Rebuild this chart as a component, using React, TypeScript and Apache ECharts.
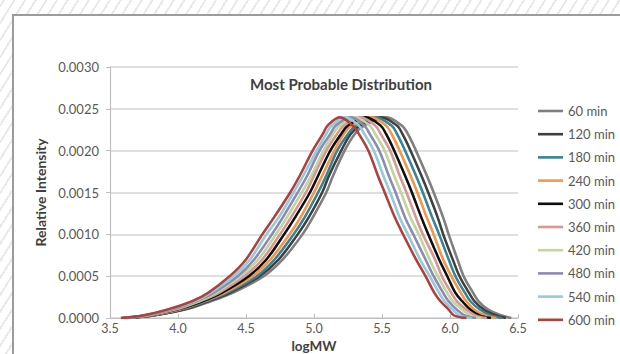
import React, { useEffect, useRef } from "react";
import * as echarts from "echarts";

// Series names (legend order)
const SERIES_NAMES = ["60 min", "120 min", "180 min", "240 min", "300 min", "360 min", "420 min", "480 min", "540 min", "600 min"];

// Relative intensity levels at which each curve's logMW position was read (rising side, peak, falling side)
const LEVELS = [0, 0.00003, 0.0001, 0.0002, 0.0003, 0.0005, 0.0007, 0.001, 0.0012, 0.0015, 0.0017, 0.002, 0.0022, 0.0023, 0.0024,
  0.0023, 0.0022, 0.002, 0.0017, 0.0015, 0.0012, 0.001, 0.0007, 0.0005, 0.0003, 0.0002, 0.0001, 0.00003, 0];

// logMW positions of each curve at the levels above
const X_60 = [3.63, 3.82, 4.05, 4.24, 4.40, 4.63, 4.77, 4.915, 4.99, 5.09, 5.14, 5.225, 5.30, 5.37, 5.53, 5.645, 5.69, 5.75, 5.83, 5.88, 5.95, 5.99, 6.055, 6.10, 6.17, 6.21, 6.28, 6.38, 6.45];
const X_120 = [3.62, 3.81, 4.04, 4.22, 4.38, 4.60, 4.74, 4.88, 4.96, 5.06, 5.11, 5.20, 5.27, 5.34, 5.49, 5.61, 5.65, 5.71, 5.79, 5.84, 5.91, 5.95, 6.02, 6.07, 6.14, 6.18, 6.25, 6.34, 6.41];
const X_180 = [3.62, 3.80, 4.02, 4.21, 4.36, 4.58, 4.71, 4.85, 4.93, 5.03, 5.09, 5.17, 5.25, 5.31, 5.45, 5.57, 5.61, 5.67, 5.75, 5.80, 5.87, 5.92, 5.99, 6.04, 6.11, 6.15, 6.22, 6.30, 6.38];
const X_240 = [3.61, 3.79, 4.01, 4.19, 4.34, 4.55, 4.68, 4.82, 4.90, 5.00, 5.06, 5.15, 5.22, 5.28, 5.42, 5.53, 5.57, 5.63, 5.71, 5.76, 5.83, 5.88, 5.95, 6.01, 6.08, 6.12, 6.18, 6.26, 6.34];
const X_300 = [3.61, 3.78, 3.99, 4.18, 4.32, 4.52, 4.65, 4.78, 4.86, 4.97, 5.03, 5.12, 5.20, 5.25, 5.38, 5.49, 5.53, 5.59, 5.67, 5.72, 5.79, 5.84, 5.92, 5.98, 6.04, 6.09, 6.15, 6.22, 6.30];
const X_360 = [3.60, 3.78, 3.98, 4.16, 4.30, 4.49, 4.62, 4.75, 4.83, 4.94, 5.00, 5.09, 5.17, 5.22, 5.34, 5.45, 5.49, 5.56, 5.63, 5.68, 5.75, 5.80, 5.89, 5.94, 6.01, 6.05, 6.12, 6.19, 6.27];
const X_420 = [3.60, 3.77, 3.96, 4.15, 4.28, 4.46, 4.59, 4.72, 4.80, 4.91, 4.98, 5.07, 5.14, 5.19, 5.30, 5.41, 5.45, 5.52, 5.59, 5.64, 5.71, 5.77, 5.85, 5.91, 5.98, 6.02, 6.09, 6.15, 6.23];
const X_480 = [3.59, 3.76, 3.95, 4.13, 4.26, 4.44, 4.56, 4.69, 4.77, 4.88, 4.95, 5.04, 5.12, 5.16, 5.27, 5.37, 5.41, 5.48, 5.55, 5.60, 5.67, 5.73, 5.82, 5.88, 5.95, 5.99, 6.05, 6.11, 6.19];
const X_540 = [3.59, 3.75, 3.93, 4.12, 4.24, 4.41, 4.53, 4.65, 4.74, 4.85, 4.92, 5.02, 5.09, 5.13, 5.23, 5.33, 5.37, 5.44, 5.51, 5.56, 5.63, 5.69, 5.78, 5.85, 5.92, 5.96, 6.02, 6.07, 6.16];
const X_600 = [3.58, 3.74, 3.92, 4.10, 4.22, 4.38, 4.50, 4.62, 4.705, 4.825, 4.895, 4.99, 5.065, 5.10, 5.19, 5.285, 5.33, 5.40, 5.47, 5.52, 5.595, 5.655, 5.75, 5.82, 5.885, 5.93, 5.99, 6.03, 6.12];

const SERIES_X = [X_60, X_120, X_180, X_240, X_300, X_360, X_420, X_480, X_540, X_600];

const COLORS = ["#7f7f7f", "#3f3f3f", "#31859c", "#f79646", "#0d0d0d", "#d99694", "#c3d69b", "#8b8bb6", "#93cddd", "#b0403c"];

const Y_MIN = 0;
const Y_MAX = 0.003;
const Y_STEP = 0.0005;
const X_MIN = 3.5;
const X_MAX = 6.5;
const X_STEP = 0.5;

const FONT = "Lato, 'Open Sans', sans-serif";

export default function App() {
  const ref = useRef<HTMLDivElement>(null);

  useEffect(() => {
    if (!ref.current) return;
    const chart = echarts.init(ref.current, null, { renderer: "svg" });
    const series = SERIES_NAMES.map((name, s) => ({
      name,
      type: "line",
      data: SERIES_X[s].map((x, i) => [x, LEVELS[i]]),
      smooth: 0.35,
      symbol: "none",
      showSymbol: false,
      lineStyle: { color: COLORS[s], width: 2.4, shadowColor: "rgba(0,0,0,0.35)", shadowBlur: 1.5 },
      itemStyle: { color: COLORS[s] },
      z: 2 + s,
    }));

    chart.setOption({
      animation: false,
      backgroundColor: "transparent",
      textStyle: { fontFamily: FONT },
      grid: { left: 110, right: 102, top: 67, bottom: 36, containLabel: false, outerBoundsMode: "none" },
      graphic: [
        {
          type: "text",
          x: 341,
          y: 84,
          style: {
            text: "Most Probable Distribution",
            fill: "#404040",
            font: `bold 15px ${FONT}`,
            textAlign: "center",
            textVerticalAlign: "middle",
          },
        },
        {
          type: "text",
          x: 314,
          y: 346,
          style: {
            text: "logMW",
            fill: "#404040",
            font: `bold 13.5px ${FONT}`,
            textAlign: "center",
            textVerticalAlign: "middle",
          },
        },
      ],
      legend: {
        orient: "vertical",
        left: 538,
        top: 104,
        padding: 0,
        itemWidth: 25,
        itemHeight: 14,
        itemGap: 9.2,
        icon: "path://M0,6 L25,6 L25,8.6 L0,8.6 Z",
        textStyle: { fontSize: 13, color: "#595959", fontFamily: FONT, lineHeight: 14 },
        data: SERIES_NAMES,
      },
      xAxis: {
        type: "value",
        min: X_MIN,
        max: X_MAX,
        interval: X_STEP,
        axisLine: { show: true, lineStyle: { color: "#bfbfbf", width: 1.2 } },
        axisTick: { show: true, inside: true, length: 4, lineStyle: { color: "#bfbfbf" } },
        axisLabel: { fontSize: 12.5, color: "#595959", margin: 4, lineHeight: 13, formatter: (v: number) => v.toFixed(1) },
        splitLine: { show: false },
      },
      yAxis: {
        type: "value",
        min: Y_MIN,
        max: Y_MAX,
        interval: Y_STEP,
        name: "Relative Intensity",
        nameLocation: "middle",
        nameGap: 62,
        nameTextStyle: { fontWeight: "bold", fontSize: 14, color: "#404040", fontFamily: FONT },
        axisLine: { show: true, lineStyle: { color: "#bfbfbf", width: 1.2 } },
        axisTick: { show: true, length: 4, lineStyle: { color: "#bfbfbf" } },
        axisLabel: { fontSize: 13, color: "#595959", margin: 11, formatter: (v: number) => v.toFixed(4) },
        splitLine: { show: true, lineStyle: { color: "#d4d4d4", width: 1.5 } },
      },
      series,
    });
    return () => chart.dispose();
  }, []);

  return (
    <div
      style={{
        position: "fixed",
        left: 0,
        top: 0,
        width: 620,
        height: 354,
        overflow: "hidden",
        background: "repeating-linear-gradient(-58deg, #ffffff 0px, #ffffff 7px, #e9e9e9 7px, #e9e9e9 9px)",
      }}
    >
      <div
        style={{
          position: "absolute",
          left: 12,
          top: 14,
          width: 620,
          height: 350,
          background: "#ffffff",
          borderLeft: "2px solid #9c9c9c",
          borderTop: "2px solid #9c9c9c",
        }}
      />
      <div ref={ref} style={{ position: "absolute", left: 0, top: 0, width: 620, height: 354 }} />
    </div>
  );
}
